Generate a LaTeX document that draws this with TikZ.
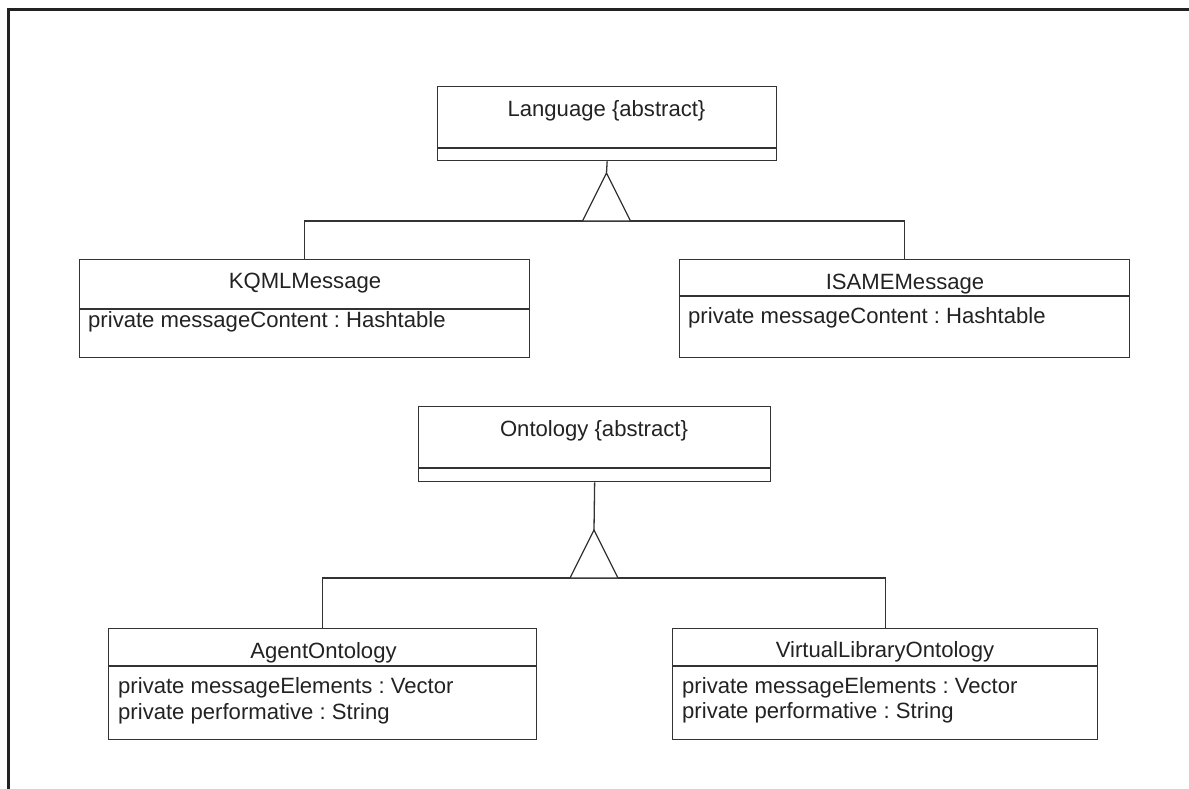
\documentclass[tikz,border=0pt]{standalone}
\usepackage{fontspec}
\setmainfont{Liberation Sans}
\frenchspacing
\definecolor{ln}{HTML}{333333}
\definecolor{tx}{HTML}{222222}
\tikzset{
  cls/.style={draw=ln, line width=1.3pt, inner sep=0pt, anchor=north west},
  txt/.style={font=\fontsize{22.1}{26}\selectfont\frenchspacing, text=tx, inner sep=0pt},
  ttl/.style={txt, anchor=base},
  attr/.style={txt, anchor=base west},
  conn/.style={draw=ln, line width=1.3pt},
  frameline/.style={draw=tx, line width=3pt}
}
\begin{document}
\begin{tikzpicture}[x=1pt,y=-1pt]
\useasboundingbox (0,0) rectangle (1189,789);
% frame
\draw[frameline] (8.5,789) -- (8.5,9.5) -- (1189,9.5);

% ---------- Language ----------
\node[cls, minimum width=339pt, minimum height=74pt] (lang) at (437,86) {};
\draw[conn] ([yshift=-62pt]lang.north west) -- ([yshift=-62pt]lang.north east);
\node[ttl] (langT) at (606.5,117) {Language \{abstract\}};

\node[cls, minimum width=450pt, minimum height=98pt] (kqml) at (79,259) {};
\draw[conn] ([yshift=-50pt]kqml.north west) -- ([yshift=-50pt]kqml.north east);
\node[ttl] (kqmlT) at (305,288) {KQMLMessage};
\node[attr] (kqmlA) at (88,327) {private messageContent : Hashtable};

\node[cls, minimum width=450pt, minimum height=98pt] (isame) at (679,259) {};
\draw[conn] ([yshift=-37pt]isame.north west) -- ([yshift=-37pt]isame.north east);
\node[ttl] (isameT) at (905,289) {ISAMEMessage};
\node[attr] (isameA) at (688,323) {private messageContent : Hashtable};

\coordinate (langApex) at (606.5,173);
\coordinate (langL) at (582.5,221);
\coordinate (langR) at (630.5,221);
\coordinate (langBar) at (606.5,221);
\draw[conn] (lang.south) -- (langApex);
\draw[conn] (kqml.north) |- (langBar) -| (isame.north);
\draw[conn, fill=white, line join=miter] (langApex) -- (langL) -- (langR) -- cycle;

% ---------- Ontology ----------
\node[cls, minimum width=352pt, minimum height=75pt] (onto) at (418,406) {};
\draw[conn] ([yshift=-62pt]onto.north west) -- ([yshift=-62pt]onto.north east);
\node[ttl] (ontoT) at (594,436) {Ontology \{abstract\}};

\node[cls, minimum width=428pt, minimum height=111pt] (agent) at (108,628) {};
\draw[conn] ([yshift=-38pt]agent.north west) -- ([yshift=-38pt]agent.north east);
\node[ttl] (agentT) at (323.5,658) {AgentOntology};
\node[attr] (agentA1) at (118,693) {private messageElements : Vector};
\node[attr] (agentA2) at (118,719) {private performative : String};

\node[cls, minimum width=425pt, minimum height=111pt] (virt) at (672,628) {};
\draw[conn] ([yshift=-38pt]virt.north west) -- ([yshift=-38pt]virt.north east);
\node[ttl] (virtT) at (885,657.5) {VirtualLibraryOntology};
\node[attr] (virtA1) at (682,693) {private messageElements : Vector};
\node[attr] (virtA2) at (682,718.5) {private performative : String};

\coordinate (ontoApex) at (594,530);
\coordinate (ontoL) at (570,578);
\coordinate (ontoR) at (618,578);
\coordinate (ontoBar) at (594,578);
\draw[conn] (onto.south) -- (ontoApex);
\draw[conn] (agent.north) |- (ontoBar) -| (virt.north);
\draw[conn, fill=white, line join=miter] (ontoApex) -- (ontoL) -- (ontoR) -- cycle;
\end{tikzpicture}
\end{document}
